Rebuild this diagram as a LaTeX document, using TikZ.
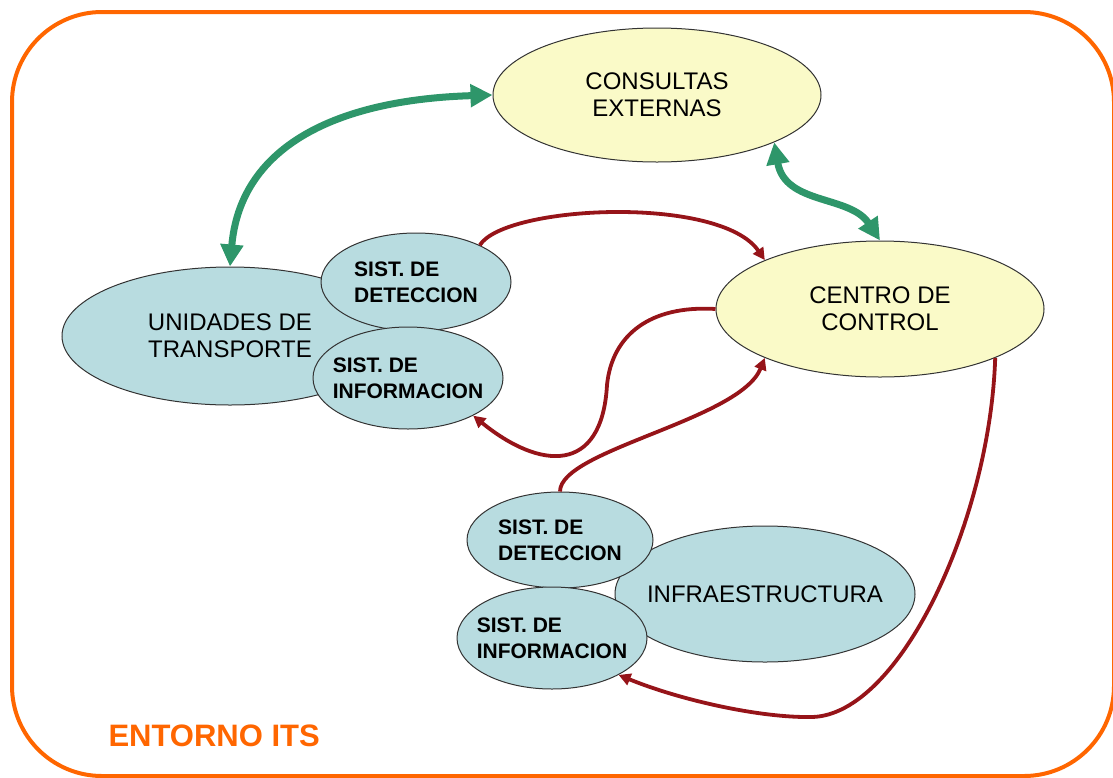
\documentclass[tikz,border=0pt]{standalone}
\usepackage{fontspec}
\setmainfont{Liberation Sans}
\usetikzlibrary{shapes.geometric,arrows.meta}
\definecolor{myorange}{RGB}{255,102,0}
\definecolor{mygreen}{RGB}{46,150,106}
\definecolor{myred}{RGB}{150,20,25}
\definecolor{myblue}{RGB}{184,220,224}
\definecolor{myyellow}{RGB}{250,250,200}

\begin{document}
\begin{tikzpicture}[x=1pt, y=-1pt,
    bigell/.style={ellipse, draw=black!80, line width=1pt, inner xsep=-20pt,
                   inner ysep=0pt, font=\fontsize{24}{27}\selectfont, align=center},
    smallell/.style={ellipse, draw=black!80, line width=1pt, fill=myblue,
                     inner xsep=-12pt, inner ysep=0pt, minimum width=190pt,
                     minimum height=100pt, font=\fontsize{21}{26}\selectfont\bfseries,
                     align=left},
    greenarr/.style={draw=mygreen, line width=7pt,
                     {Triangle[length=22pt,width=22pt]}-{Triangle[length=22pt,width=22pt]}},
    redarr/.style={draw=myred, line width=3.8pt, -{Triangle[length=12pt,width=12pt]}}]
  \clip (0,0) rectangle (1113,777);
  % Frame
  \draw[myorange, line width=4pt, rounded corners=90pt] (12,12) rectangle (1114,776);
  \node[text=myorange, font=\fontsize{31}{31}\selectfont\bfseries, anchor=base west]
    (title) at (105,746) {ENTORNO ITS};

  % Top and right
  \node[bigell, fill=myyellow, minimum width=328pt, minimum height=134pt]
    (cons) at (657,95) {CONSULTAS\\EXTERNAS};
  \node[bigell, fill=myyellow, minimum width=328pt, minimum height=136pt]
    (ctrl) at (880,309) {CENTRO DE\\CONTROL};

  % Vehicles
  \node[bigell, fill=myblue, minimum width=336pt, minimum height=138pt]
    (unid) at (230,336) {UNIDADES DE\\TRANSPORTE};
  \node[smallell, minimum height=98pt] (det) at (416,282) {SIST. DE\\DETECCION};
  \node[smallell, minimum height=102pt] (inf) at (408,378) {SIST. DE\\INFORMACION};

  % Roadside
  \node[bigell, fill=myblue, minimum width=300pt, minimum height=136pt]
    (infra) at (765,594) {INFRAESTRUCTURA};
  \node[smallell, minimum width=186pt, minimum height=96pt] (det2) at (560,540) {SIST. DE\\DETECCION};
  \node[smallell, minimum height=102pt] (inf2) at (552,638) {SIST. DE\\INFORMACION};

  % Links
  \draw[greenarr] (unid.north) .. controls (240,150) and (330,100) .. (cons.west);
  \draw[greenarr] (cons.-22) .. controls (785,205) and (850,195) .. (ctrl.north);
  \draw[redarr] (det.30) .. controls (505,205) and (720,195) .. (ctrl.157);
  \draw[redarr] (ctrl.west) .. controls (650,305) and (612,335) .. (607,385)
    .. controls (602,475) and (540,470) .. (inf.-30);
  \draw[redarr] (det2.north) .. controls (560,450) and (740,420) .. (ctrl.203);
  \draw[redarr] (ctrl.-23) .. controls (990,520) and (900,715) .. (812,717)
    .. controls (760,718) and (680,700) .. (inf2.-29);
\end{tikzpicture}
\end{document}
